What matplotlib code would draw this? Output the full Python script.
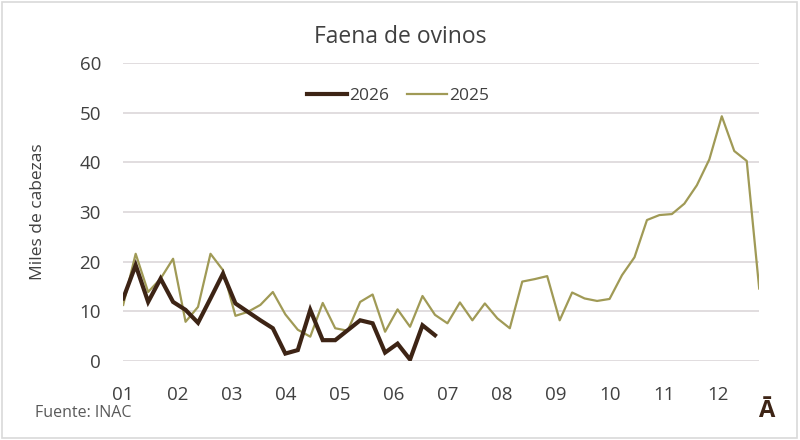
import matplotlib
matplotlib.use("Agg")
import matplotlib.pyplot as plt
from matplotlib.patches import Rectangle

plt.rcParams['font.family'] = ['Open Sans', 'DejaVu Sans']

# Datos semanales (miles de cabezas)
faena_2026 = [12.6, 19.3, 11.9, 16.6, 11.9, 10.3, 7.7, 12.6, 17.6, 11.6,
              9.9, 8.2, 6.6, 1.5, 2.2, 10.3, 4.2, 4.2, 6.2, 8.2,
              7.6, 1.7, 3.5, 0.3, 7.2, 5.2]
faena_2025 = [11.3, 21.6, 13.9, 16.6, 20.6, 7.9, 10.9, 21.6, 18.3, 9.1,
              9.9, 11.3, 13.9, 9.4, 6.3, 4.9, 11.7, 6.6, 6.1, 11.9,
              13.4, 5.9, 10.4, 6.9, 13.1, 9.3, 7.6, 11.8, 8.2, 11.6,
              8.6, 6.6, 16.0, 16.5, 17.1, 8.2, 13.8, 12.6, 12.1, 12.5,
              17.3, 20.9, 28.4, 29.4, 29.6, 31.7, 35.4, 40.6, 49.3, 42.3,
              40.3, 14.6]
meses = ["01", "02", "03", "04", "05", "06", "07", "08", "09", "10", "11", "12"]

color_2026 = "#3d2415"
color_2025 = "#a09a56"
gris_texto = "#595959"

fig = plt.figure(figsize=(8, 4.4), dpi=100)
ax = fig.add_axes([0.154, 0.1795, 0.795, 0.677])

semanas_2026 = list(range(len(faena_2026)))
semanas_2025 = list(range(len(faena_2025)))

ax.plot(semanas_2026, faena_2026, color=color_2026, linewidth=3.0, label="2026",
        solid_joinstyle="miter", zorder=3)
ax.plot(semanas_2025, faena_2025, color=color_2025, linewidth=1.6, label="2025", zorder=2)

ax.set_xlim(0, 51)
ax.set_ylim(0, 60)
ax.set_yticks(range(0, 61, 10))
ax.set_xticks([i * 52 / 12 for i in range(12)])
ax.set_xticklabels(meses)
ax.tick_params(axis="both", length=0, labelsize=13.5, colors="#404040")
ax.tick_params(axis="x", pad=18)
ax.tick_params(axis="y", pad=16)

ax.grid(axis="y", color="#dcd7d9", linewidth=1.2)
ax.set_axisbelow(True)
for s in ax.spines.values():
    s.set_visible(False)

ax.set_ylabel("Miles de cabezas", fontsize=12.5, color="#404040")
ax.yaxis.set_label_coords(-0.122, 0.5)

fig.text(0.5, 0.915, "Faena de ovinos", ha="center", va="center", fontsize=16.5, color="#404040")

fig.legend(loc="center", bbox_to_anchor=(0.4975, 0.782), ncol=2, frameon=False,
           fontsize=12.5, handlelength=2.3, handletextpad=0.15, columnspacing=1.0,
           labelcolor="#404040")

fig.text(0.044, 0.062, "Fuente: INAC", ha="left", va="center", fontsize=11.5, color=gris_texto)
fig.text(0.958, 0.066, "Ā", ha="center", va="center", fontsize=17, fontweight="bold",
         color=color_2026)

# marco de la imagen
fig.patches.append(Rectangle((0.002, 0.004), 0.994, 0.992, transform=fig.transFigure,
                             fill=False, edgecolor="#d9d9d9", linewidth=1.2))

fig.savefig("out.png", dpi=100)
